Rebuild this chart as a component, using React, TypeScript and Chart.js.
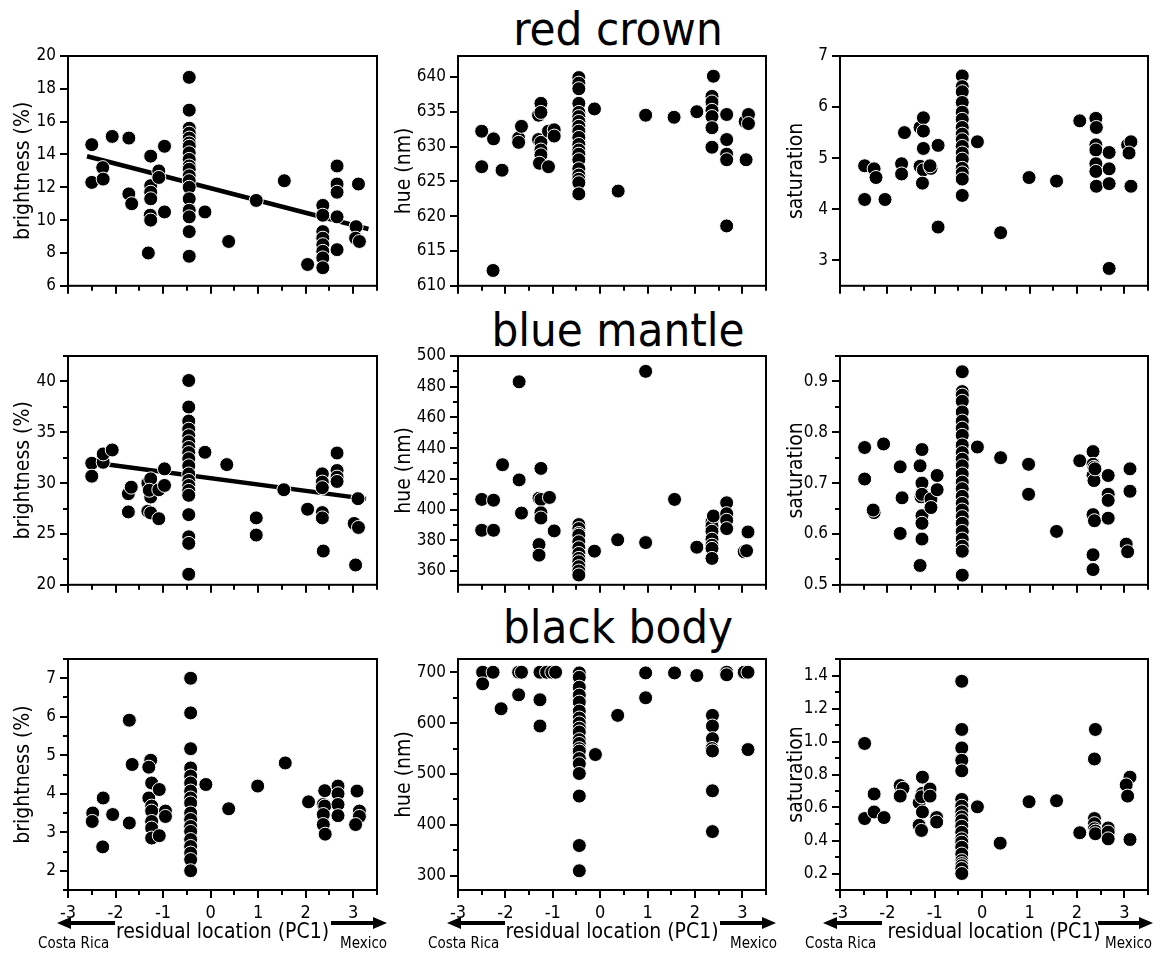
import React, { useEffect, useRef } from "react";
import { Chart, registerables } from "chart.js";

Chart.register(...registerables);

const FONT = "'DejaVu Sans Condensed', 'DejaVu Sans', sans-serif";

type P = [number, number];

// ---------- red crown ----------
const crownBrightness: P[] = [
  [-2.5, 14.6], [-2.5, 12.3], [-2.27, 13.2], [-2.26, 12.5], [-2.07, 15.1], [-1.72, 15.0], [-1.72, 11.6], [-1.66, 11.0],
  [-1.26, 13.9], [-1.26, 12.1], [-1.26, 11.7], [-1.26, 11.3], [-1.27, 10.3], [-1.26, 10.0], [-1.31, 8.0],
  [-1.09, 13.0], [-1.09, 12.6], [-0.97, 14.5], [-0.97, 10.5],
  [-0.45, 18.7], [-0.45, 16.7], [-0.45, 15.6], [-0.45, 15.3], [-0.45, 15.0], [-0.45, 14.7], [-0.45, 14.5], [-0.45, 14.1],
  [-0.45, 13.7], [-0.45, 13.3], [-0.45, 13.1], [-0.45, 12.7], [-0.45, 12.4], [-0.45, 12.0], [-0.45, 11.3], [-0.45, 10.6],
  [-0.45, 10.2], [-0.45, 9.3], [-0.45, 7.8],
  [-0.12, 10.5], [0.38, 8.7], [0.96, 11.2], [1.55, 12.4], [2.04, 7.3],
  [2.36, 10.9], [2.36, 10.3], [2.36, 9.3], [2.36, 8.9], [2.36, 8.5], [2.36, 8.1], [2.36, 7.7], [2.36, 7.1],
  [2.66, 13.3], [2.66, 12.2], [2.66, 11.7], [2.66, 10.2], [2.66, 8.2],
  [3.06, 9.6], [3.05, 8.9], [3.13, 8.7], [3.11, 12.2],
];
const crownBrightnessFit: P[] = [[-2.6, 13.89], [3.32, 9.46]];

const crownHue: P[] = [
  [-2.5, 632.2], [-2.5, 627.1], [-2.25, 631.1], [-2.26, 612.2], [-2.07, 626.6], [-1.72, 631.2], [-1.72, 630.6], [-1.66, 632.9],
  [-1.3, 634.5], [-1.25, 636.2], [-1.25, 634.9], [-1.3, 631.0], [-1.25, 630.6], [-1.25, 629.5], [-1.25, 628.8], [-1.28, 627.6],
  [-1.09, 627.1], [-1.09, 632.2], [-0.97, 632.4], [-0.97, 631.5],
  [-0.45, 639.9], [-0.45, 639.1], [-0.45, 638.3], [-0.45, 636.2], [-0.45, 634.9], [-0.45, 634.3], [-0.45, 633.6],
  [-0.45, 632.9], [-0.45, 632.2], [-0.45, 631.3], [-0.45, 630.3], [-0.45, 629.5], [-0.45, 628.9], [-0.45, 628.1],
  [-0.45, 626.8], [-0.45, 625.9], [-0.45, 625.3], [-0.45, 624.8], [-0.45, 623.2],
  [-0.12, 635.4], [0.38, 623.6], [0.96, 634.5], [1.56, 634.2], [2.04, 635.0],
  [2.39, 640.1], [2.36, 637.2], [2.36, 636.4], [2.36, 635.2], [2.36, 634.3], [2.36, 632.7], [2.36, 629.9],
  [2.67, 634.6], [2.67, 631.0], [2.67, 628.9], [2.67, 628.1], [2.67, 618.6],
  [3.06, 633.6], [3.13, 634.6], [3.13, 633.3], [3.08, 628.1],
];

const crownSaturation: P[] = [
  [-2.48, 4.85], [-2.48, 4.19], [-2.28, 4.79], [-2.24, 4.62], [-2.05, 4.19],
  [-1.64, 5.5], [-1.7, 4.89], [-1.7, 4.69],
  [-1.31, 5.6], [-1.24, 5.79], [-1.24, 5.53], [-1.24, 5.19], [-1.31, 4.84], [-1.24, 4.77], [-1.26, 4.51],
  [-1.08, 4.8], [-1.1, 4.85], [-0.93, 5.25], [-0.93, 3.65],
  [-0.42, 6.61], [-0.42, 6.4], [-0.42, 6.3], [-0.42, 6.09], [-0.42, 5.9], [-0.42, 5.76], [-0.42, 5.6], [-0.42, 5.47],
  [-0.42, 5.36], [-0.42, 5.23], [-0.42, 5.1], [-0.42, 4.98], [-0.42, 4.8], [-0.42, 4.71], [-0.42, 4.59], [-0.42, 4.27],
  [-0.1, 5.32], [0.39, 3.54], [0.99, 4.62], [1.57, 4.55], [2.06, 5.73],
  [2.4, 5.78], [2.41, 5.6], [2.4, 5.26], [2.4, 5.16], [2.4, 4.89], [2.4, 4.74], [2.41, 4.45],
  [2.68, 5.11], [2.68, 4.79], [2.68, 4.5], [2.68, 2.84],
  [3.07, 5.26], [3.14, 5.32], [3.1, 5.1], [3.14, 4.45],
];

// ---------- blue mantle ----------
const mantleBrightness: P[] = [
  [-2.5, 31.95], [-2.5, 30.68], [-2.26, 32.05], [-2.26, 32.87], [-2.07, 33.26],
  [-1.73, 28.96], [-1.67, 29.6], [-1.73, 27.17],
  [-1.32, 30.0], [-1.26, 30.42], [-1.26, 28.63], [-1.29, 29.3], [-1.32, 27.23], [-1.26, 27.07],
  [-1.09, 26.5], [-1.09, 29.35], [-0.97, 29.77], [-0.97, 31.4],
  [-0.46, 40.09], [-0.46, 37.48], [-0.46, 36.1], [-0.46, 35.3], [-0.46, 34.66], [-0.46, 34.07], [-0.46, 33.5],
  [-0.46, 33.0], [-0.46, 32.4], [-0.46, 31.7], [-0.46, 30.9], [-0.46, 30.26], [-0.46, 29.77], [-0.46, 29.28],
  [-0.46, 28.8], [-0.46, 26.9], [-0.46, 24.72], [-0.46, 24.07], [-0.46, 21.04],
  [-0.12, 33.03], [0.34, 31.82], [0.96, 26.58], [0.96, 24.89], [1.54, 29.35], [2.04, 27.43],
  [2.35, 30.91], [2.35, 30.1], [2.35, 29.55], [2.35, 27.1], [2.35, 26.58], [2.37, 23.32],
  [2.66, 32.96], [2.66, 31.24], [2.66, 30.59], [2.66, 30.16],
  [3.1, 28.47], [3.02, 26.03], [3.11, 25.64], [3.05, 21.95],
];
const mantleBrightnessFit: P[] = [[-2.6, 32.1], [3.27, 28.45]];

const mantleHue: P[] = [
  [-2.5, 406.6], [-2.5, 386.5], [-2.25, 406.1], [-2.25, 386.5], [-2.06, 429.2], [-1.71, 419.3], [-1.66, 397.7], [-1.71, 483.2],
  [-1.25, 426.8], [-1.29, 407.4], [-1.25, 406.6], [-1.07, 407.9], [-1.25, 397.9], [-1.25, 394.5], [-0.97, 386.1],
  [-1.29, 377.2], [-1.29, 370.3],
  [-0.45, 390.2], [-0.45, 387.6], [-0.45, 384.4], [-0.45, 383.3], [-0.45, 379.0], [-0.45, 375.1], [-0.45, 371.4],
  [-0.45, 368.2], [-0.45, 366.0], [-0.45, 362.8], [-0.45, 360.0], [-0.45, 357.4],
  [-0.12, 372.9], [0.37, 380.3], [0.96, 378.5], [0.96, 490.0], [1.57, 406.6], [2.04, 375.5],
  [2.36, 391.9], [2.36, 389.3], [2.39, 395.8], [2.36, 385.9], [2.36, 380.7], [2.36, 376.8], [2.36, 374.7], [2.36, 368.2],
  [2.67, 404.4], [2.67, 397.3], [2.67, 393.0], [2.67, 387.6],
  [3.12, 385.4], [3.04, 372.5], [3.09, 373.2],
];

const mantleSaturation: P[] = [
  [-2.48, 0.77], [-2.48, 0.708], [-2.28, 0.642], [-2.3, 0.647], [-2.08, 0.777],
  [-1.73, 0.732], [-1.69, 0.671], [-1.73, 0.601],
  [-1.31, 0.734], [-1.27, 0.766], [-1.27, 0.7], [-1.29, 0.673], [-1.27, 0.678], [-1.27, 0.636], [-1.27, 0.621],
  [-1.27, 0.59], [-1.31, 0.538],
  [-1.08, 0.669], [-1.08, 0.652], [-0.95, 0.715], [-0.95, 0.687],
  [-0.42, 0.919], [-0.42, 0.88], [-0.42, 0.873], [-0.42, 0.861], [-0.42, 0.84], [-0.42, 0.822], [-0.42, 0.808],
  [-0.42, 0.794], [-0.42, 0.775], [-0.42, 0.76], [-0.42, 0.747], [-0.42, 0.734], [-0.42, 0.718], [-0.42, 0.702],
  [-0.42, 0.689], [-0.42, 0.674], [-0.42, 0.66], [-0.42, 0.647], [-0.42, 0.634], [-0.42, 0.621], [-0.42, 0.605],
  [-0.42, 0.59], [-0.42, 0.576], [-0.42, 0.566], [-0.42, 0.519],
  [-0.1, 0.771], [0.39, 0.75], [0.98, 0.737], [0.98, 0.678], [1.57, 0.605], [2.06, 0.744],
  [2.34, 0.762], [2.34, 0.737], [2.36, 0.731], [2.34, 0.715], [2.36, 0.705], [2.38, 0.728], [2.34, 0.638],
  [2.37, 0.626], [2.34, 0.559], [2.34, 0.53],
  [2.66, 0.715], [2.66, 0.678], [2.66, 0.666], [2.66, 0.631],
  [3.12, 0.728], [3.12, 0.684], [3.04, 0.58], [3.07, 0.565],
];

// ---------- black body ----------
const bodyBrightness: P[] = [
  [-2.48, 3.5], [-2.49, 3.28], [-2.26, 3.89], [-2.27, 2.62], [-2.06, 3.46],
  [-1.71, 5.91], [-1.65, 4.76], [-1.71, 3.24],
  [-1.26, 4.87], [-1.3, 4.69], [-1.24, 4.28], [-1.3, 3.89], [-1.24, 3.68], [-1.24, 3.55], [-1.24, 3.28],
  [-1.24, 3.11], [-1.24, 2.85],
  [-1.08, 2.91], [-1.08, 4.11], [-0.95, 3.55], [-0.95, 3.41],
  [-0.42, 7.0], [-0.42, 6.1], [-0.42, 5.17], [-0.42, 4.67], [-0.42, 4.46], [-0.42, 4.28], [-0.42, 4.07], [-0.42, 3.89],
  [-0.42, 3.76], [-0.42, 3.5], [-0.42, 3.33], [-0.42, 3.15], [-0.42, 3.02], [-0.42, 2.81], [-0.42, 2.63], [-0.42, 2.46],
  [-0.42, 2.29], [-0.42, 2.0],
  [-0.1, 4.24], [0.38, 3.61], [0.99, 4.2], [1.57, 4.8], [2.06, 3.79],
  [2.4, 4.08], [2.37, 3.72], [2.4, 3.68], [2.37, 3.46], [2.37, 3.2], [2.41, 2.95],
  [2.68, 4.2], [2.68, 4.0], [2.68, 3.72], [2.68, 3.43],
  [3.08, 4.07], [3.13, 3.55], [3.13, 3.41], [3.05, 3.2],
];

const bodyHue: P[] = [
  [-2.48, 700], [-2.48, 677.2], [-2.26, 700], [-2.09, 628.2], [-1.72, 700], [-1.66, 700], [-1.72, 655.6],
  [-1.27, 700], [-1.13, 700], [-1.02, 700], [-0.94, 700], [-1.27, 645.8], [-1.27, 594.3],
  [-0.44, 698.7], [-0.44, 690], [-0.44, 670.6], [-0.44, 655], [-0.44, 641.3], [-0.44, 623.7], [-0.44, 610],
  [-0.44, 600.2], [-0.44, 590], [-0.44, 582.5], [-0.44, 567.5], [-0.44, 560], [-0.44, 549.9], [-0.44, 545],
  [-0.44, 530.3], [-0.44, 520], [-0.44, 501], [-0.44, 456.6], [-0.44, 359.4], [-0.44, 309.8],
  [-0.1, 538.2], [0.37, 615.2], [0.96, 698.7], [0.96, 649.8], [1.57, 698.7], [2.04, 693.5],
  [2.37, 615.2], [2.37, 594.3], [2.37, 569.5], [2.36, 550], [2.37, 545.3], [2.37, 467], [2.37, 386.8],
  [2.67, 700], [2.67, 695], [3.04, 700], [3.12, 700], [3.12, 548],
];

const bodySaturation: P[] = [
  [-2.48, 0.988], [-2.48, 0.533], [-2.28, 0.682], [-2.28, 0.573], [-2.07, 0.539],
  [-1.73, 0.733], [-1.67, 0.716], [-1.73, 0.669],
  [-1.33, 0.629], [-1.26, 0.784], [-1.26, 0.686], [-1.28, 0.665], [-1.26, 0.573], [-1.33, 0.492], [-1.28, 0.461],
  [-1.1, 0.712], [-1.1, 0.669], [-0.96, 0.539], [-0.96, 0.512],
  [-0.43, 1.365], [-0.43, 1.073], [-0.43, 0.961], [-0.43, 0.886], [-0.43, 0.822], [-0.43, 0.649], [-0.43, 0.608],
  [-0.43, 0.573], [-0.43, 0.543], [-0.43, 0.52], [-0.43, 0.486], [-0.43, 0.45], [-0.43, 0.41], [-0.43, 0.39],
  [-0.43, 0.359], [-0.43, 0.318], [-0.43, 0.278], [-0.43, 0.26], [-0.43, 0.247], [-0.43, 0.23], [-0.43, 0.2],
  [-0.1, 0.604], [0.38, 0.384], [0.99, 0.635], [1.57, 0.641], [2.06, 0.447],
  [2.39, 1.073], [2.37, 0.894], [2.37, 0.533], [2.37, 0.502], [2.37, 0.471], [2.39, 0.457], [2.39, 0.441],
  [2.66, 0.476], [2.66, 0.451], [2.66, 0.41],
  [3.12, 0.784], [3.04, 0.737], [3.07, 0.669], [3.12, 0.406],
];

const rowTitles = ["red crown", "blue mantle", "black body"];
const xTitle = "residual location (PC1)";
const leftPlace = "Costa Rica";
const rightPlace = "Mexico";

// ---------- layout ----------
const cols = [
  { left: 0, yW: 68, plotW: 309, padR: 10, titlePad: 11, arrows: { lTip: -11, lTail: 47, rTail: -46, rTip: 10, costa: -30, mexico: -37 } },
  { left: 390, yW: 68, plotW: 308, padR: 14, titlePad: 2, arrows: { lTip: -11, lTail: 47, rTail: -46, rTip: 10, costa: -30, mexico: -36 } },
  { left: 770, yW: 70, plotW: 308, padR: 10, titlePad: 14, arrows: { lTip: -17, lTail: 42, rTail: -50, rTip: 5, costa: -35, mexico: -43 } },
];
const PAD_T = 16;
const rows = [
  { top: 56 - PAD_T, plotH: 232, xH: 12 },
  { top: 356 - PAD_T, plotH: 231, xH: 12 },
  { top: 659 - PAD_T, plotH: 231, xH: 67 },
];

type PanelCfg = {
  data: P[]; fit?: P[]; min: number; max: number; major: number; minor: boolean; dec: number; label: string; row: number; col: number;
};

const panels: PanelCfg[] = [
  { data: crownBrightness, fit: crownBrightnessFit, min: 6, max: 20, major: 2, minor: false, dec: 0, label: "brightness (%)", row: 0, col: 0 },
  { data: crownHue, min: 610, max: 643, major: 5, minor: false, dec: 0, label: "hue (nm)", row: 0, col: 1 },
  { data: crownSaturation, min: 2.5, max: 7, major: 1, minor: false, dec: 0, label: "saturation", row: 0, col: 2 },
  { data: mantleBrightness, fit: mantleBrightnessFit, min: 20, max: 42.5, major: 5, minor: true, dec: 0, label: "brightness (%)", row: 1, col: 0 },
  { data: mantleHue, min: 351, max: 500, major: 20, minor: true, dec: 0, label: "hue (nm)", row: 1, col: 1 },
  { data: mantleSaturation, min: 0.5, max: 0.95, major: 0.1, minor: true, dec: 1, label: "saturation", row: 1, col: 2 },
  { data: bodyBrightness, min: 1.5, max: 7.5, major: 1, minor: true, dec: 0, label: "brightness (%)", row: 2, col: 0 },
  { data: bodyHue, min: 272, max: 726, major: 100, minor: true, dec: 0, label: "hue (nm)", row: 2, col: 1 },
  { data: bodySaturation, min: 0.1, max: 1.5, major: 0.2, minor: true, dec: 1, label: "saturation", row: 2, col: 2 },
];

function isMultiple(v: number, step: number) {
  const r = v / step;
  return Math.abs(r - Math.round(r)) < 1e-6;
}

function drawArrow(ctx: CanvasRenderingContext2D, tail: number, tip: number, y: number) {
  const dir = Math.sign(tip - tail);
  const headLen = 14;
  const headHalf = 6;
  ctx.lineWidth = 4;
  ctx.beginPath();
  ctx.moveTo(tail, y);
  ctx.lineTo(tip - dir * headLen + dir * 1, y);
  ctx.stroke();
  ctx.beginPath();
  ctx.moveTo(tip, y);
  ctx.lineTo(tip - dir * headLen, y - headHalf);
  ctx.lineTo(tip - dir * headLen, y + headHalf);
  ctx.closePath();
  ctx.fill();
}

const frameTicks = {
  id: "frameTicks",
  afterDatasetsDraw(chart: any, _args: any, opts: any) {
    const { ctx, chartArea: a } = chart;
    const xs = chart.scales.x;
    const ys = chart.scales.y;
    ctx.save();
    ctx.strokeStyle = "#000";
    ctx.fillStyle = "#000";
    ctx.lineWidth = 2;
    ctx.strokeRect(a.left, a.top, a.right - a.left, a.bottom - a.top);
    ctx.beginPath();
    for (const t of ys.ticks) {
      if (t.value < ys.min - 1e-9 || t.value > ys.max + 1e-9) continue;
      const p = Math.round(ys.getPixelForValue(t.value));
      const len = isMultiple(t.value, opts.yMajor) ? 8 : 5;
      ctx.moveTo(a.left - len, p);
      ctx.lineTo(a.left, p);
    }
    for (const t of xs.ticks) {
      const p = Math.round(xs.getPixelForValue(t.value));
      const len = isMultiple(t.value, 1) ? 8 : 5;
      ctx.moveTo(p, a.bottom);
      ctx.lineTo(p, a.bottom + len);
    }
    ctx.stroke();
    if (opts.arrows) {
      const ar = opts.arrows;
      const y = a.bottom + 33;
      drawArrow(ctx, a.left + ar.lTail, a.left + ar.lTip, y);
      drawArrow(ctx, a.right + ar.rTail, a.right + ar.rTip, y);
      ctx.font = `15px ${FONT}`;
      ctx.textAlign = "left";
      ctx.textBaseline = "alphabetic";
      ctx.fillText(leftPlace, a.left + ar.costa, a.bottom + 58);
      ctx.fillText(rightPlace, a.right + ar.mexico, a.bottom + 58);
    }
    ctx.restore();
  },
};

function Panel({ cfg }: { cfg: PanelCfg }) {
  const ref = useRef<HTMLCanvasElement | null>(null);
  const c = cols[cfg.col];
  const r = rows[cfg.row];
  const width = c.yW + c.plotW + c.padR;
  const height = PAD_T + r.plotH + r.xH;
  const bottomRow = cfg.row === 2;

  useEffect(() => {
    if (!ref.current) return;
    const datasets: any[] = [
      {
        type: "scatter",
        data: cfg.data.map(([x, y]) => ({ x, y })),
        pointRadius: 7,
        pointHoverRadius: 7,
        pointBackgroundColor: "#000",
        pointBorderColor: "#fff",
        pointBorderWidth: 1,
        order: 0,
      },
    ];
    if (cfg.fit) {
      datasets.push({
        type: "line",
        data: cfg.fit.map(([x, y]) => ({ x, y })),
        borderColor: "#000",
        borderWidth: 4.5,
        pointRadius: 0,
        fill: false,
        order: 1,
      });
    }
    const chart = new Chart(ref.current, {
      type: "scatter",
      data: { datasets },
      plugins: [frameTicks as any],
      options: {
        responsive: false,
        animation: false,
        events: [],
        layout: { padding: { top: PAD_T, right: c.padR, bottom: 0, left: 0 } },
        plugins: {
          legend: { display: false },
          tooltip: { enabled: false },
          frameTicks: { yMajor: cfg.major, arrows: bottomRow ? c.arrows : null },
        } as any,
        scales: {
          x: {
            type: "linear",
            min: -3,
            max: 3.5,
            afterFit: (s: any) => { s.height = r.xH; },
            grid: { drawOnChartArea: false, drawTicks: true, tickLength: 8, color: "rgba(0,0,0,0)" },
            border: { display: false },
            ticks: {
              stepSize: 0.5,
              autoSkip: false,
              maxRotation: 0,
              padding: 5,
              color: "#000",
              font: { family: FONT, size: 18 },
              callback: (v: any) => (bottomRow && isMultiple(Number(v), 1) ? String(Math.round(Number(v))) : ""),
            },
            title: bottomRow
              ? { display: true, text: xTitle, color: "#000", font: { family: FONT, size: 21 }, padding: { top: 0, bottom: 12 } }
              : { display: false },
          },
          y: {
            type: "linear",
            min: cfg.min,
            max: cfg.max,
            afterFit: (s: any) => { s.width = c.yW; },
            grid: { drawOnChartArea: false, drawTicks: true, tickLength: 8, color: "rgba(0,0,0,0)" },
            border: { display: false },
            ticks: {
              stepSize: cfg.minor ? cfg.major / 2 : cfg.major,
              includeBounds: false,
              autoSkip: false,
              padding: 4,
              color: "#000",
              font: { family: FONT, size: 17 },
              callback: (v: any) => {
                const n = Number(v);
                if (!isMultiple(n, cfg.major)) return "";
                return cfg.dec > 0 ? n.toFixed(cfg.dec) : String(Math.round(n));
              },
            },
            title: { display: true, text: cfg.label, color: "#000", font: { family: FONT, size: 21 }, padding: { top: c.titlePad, bottom: 0 } },
          },
        },
      } as any,
    });
    return () => chart.destroy();
  }, []);

  return (
    <canvas
      ref={ref}
      width={width}
      height={height}
      style={{ position: "absolute", left: c.left, top: r.top, width, height }}
    />
  );
}

const titleTops = [5, 306, 603];

export default function App() {
  return (
    <div style={{ position: "absolute", left: 0, top: 0, width: 1164, height: 957, background: "#fff", overflow: "hidden" }}>
      {rowTitles.map((t, i) => (
        <div
          key={t}
          style={{
            position: "absolute",
            left: 318,
            top: titleTops[i],
            width: 600,
            textAlign: "center",
            fontFamily: FONT,
            fontSize: 47,
            lineHeight: "47px",
            color: "#000",
            whiteSpace: "nowrap",
          }}
        >
          {t}
        </div>
      ))}
      {panels.map((p, i) => (
        <Panel key={i} cfg={p} />
      ))}
    </div>
  );
}
